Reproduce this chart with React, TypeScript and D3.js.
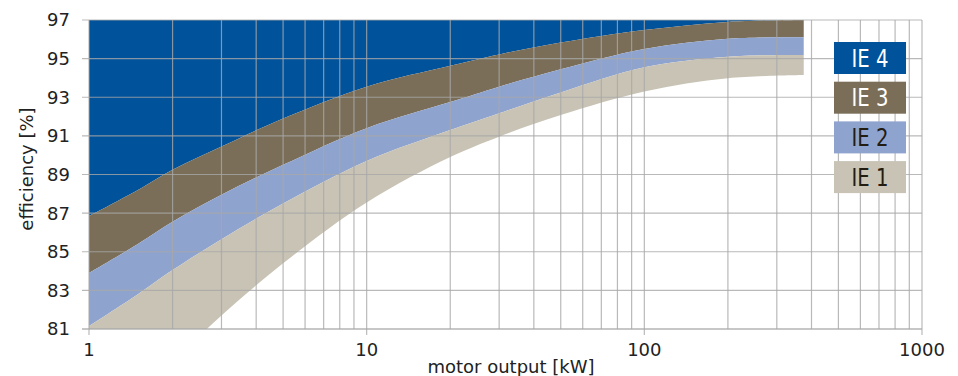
import { useEffect, useRef } from 'react'
import * as d3 from 'd3'

// motor output [kW] sample points
const power = [1, 1.5, 2, 3, 5, 10, 20, 30, 50, 100, 200, 375]

// efficiency limits [%] per class at the points above
const ie4 = [86.85, 88.2, 89.25, 90.45, 91.9, 93.55, 94.63, 95.22, 95.83, 96.48, 96.9, 97.0]
const ie3 = [83.9, 85.4, 86.55, 87.95, 89.5, 91.4, 92.75, 93.55, 94.45, 95.5, 96.03, 96.1]
const ie2 = [81.15, 82.8, 84.05, 85.65, 87.5, 89.7, 91.3, 92.17, 93.25, 94.55, 95.1, 95.19]
const ie1 = [75.0, 77.55, 79.3, 81.7, 84.4, 87.55, 89.9, 90.96, 92.08, 93.3, 93.98, 94.15]

const classNames = ['IE 4', 'IE 3', 'IE 2', 'IE 1']
const yTicks = [81, 83, 85, 87, 89, 91, 93, 95, 97]
const xTicks = [1, 10, 100, 1000]

const COLORS = ['#00529b', '#7a6e58', '#8fa3cf', '#c8c3b5']
const TEXT_COLORS = ['#ffffff', '#ffffff', '#231c10', '#231c10']

export default function App() {
  const svgRef = useRef<SVGSVGElement>(null)

  useEffect(() => {
    if (!svgRef.current) return
    const svg = d3.select(svgRef.current)
    svg.selectAll('*').remove()

    const width = 958
    const height = 376
    const left = 89
    const right = 922
    const top = 20
    const bottom = 329
    const font = '"DejaVu Sans", sans-serif'

    svg.attr('width', width).attr('height', height)

    const x = d3.scaleLog().domain([1, 1000]).range([left, right])
    const y = d3.scaleLinear().domain([81, 97]).range([bottom, top])

    svg.append('defs')
      .append('clipPath')
      .attr('id', 'plot-clip')
      .append('rect')
      .attr('x', left)
      .attr('y', top)
      .attr('width', right - left)
      .attr('height', bottom - top)

    // bands: each class fills from its own limit up to the next class
    const upper = [power.map(() => 97), ie4, ie3, ie2]
    const lower = [ie4, ie3, ie2, ie1]

    const bands = svg.append('g').attr('clip-path', 'url(#plot-clip)')
    for (let k = 0; k < 4; k++) {
      const area = d3.area<number>()
        .x(i => x(power[i]))
        .y0(i => y(lower[k][i]))
        .y1(i => y(upper[k][i]))
        .curve(d3.curveCatmullRom.alpha(0.5))
      bands.append('path')
        .attr('d', area(power.map((_, i) => i)) as string)
        .attr('fill', COLORS[k])
    }

    // grid on top of the bands
    const minor: number[] = []
    for (let d = 1; d < 1000; d *= 10) {
      for (let m = 1; m < 10; m++) minor.push(d * m)
    }
    minor.push(1000)

    const grid = svg.append('g')
      .attr('stroke', '#a8a8a8')
      .attr('stroke-opacity', 0.8)
      .attr('stroke-width', 1.2)

    grid.selectAll('line.v')
      .data(minor)
      .enter()
      .append('line')
      .attr('x1', d => x(d))
      .attr('x2', d => x(d))
      .attr('y1', top)
      .attr('y2', bottom)

    grid.selectAll('line.h')
      .data(yTicks)
      .enter()
      .append('line')
      .attr('x1', left - 7)
      .attr('x2', right)
      .attr('y1', d => y(d))
      .attr('y2', d => y(d))

    grid.selectAll('line.t')
      .data(xTicks)
      .enter()
      .append('line')
      .attr('x1', d => x(d))
      .attr('x2', d => x(d))
      .attr('y1', bottom)
      .attr('y2', bottom + 6)

    grid.append('line')
      .attr('x1', left - 7)
      .attr('x2', right)
      .attr('y1', bottom)
      .attr('y2', bottom)

    // tick labels
    svg.append('g')
      .selectAll('text')
      .data(yTicks)
      .enter()
      .append('text')
      .attr('x', 70)
      .attr('y', d => y(d))
      .attr('dy', '0.36em')
      .attr('text-anchor', 'end')
      .style('font-family', font)
      .style('font-size', '18px')
      .style('fill', '#222')
      .text(d => d)

    svg.append('g')
      .selectAll('text')
      .data(xTicks)
      .enter()
      .append('text')
      .attr('x', d => x(d))
      .attr('y', 356)
      .attr('text-anchor', 'middle')
      .style('font-family', font)
      .style('font-size', '18px')
      .style('fill', '#222')
      .text(d => d)

    svg.append('text')
      .attr('transform', 'translate(33,169) rotate(-90)')
      .attr('text-anchor', 'middle')
      .style('font-family', font)
      .style('font-size', '18px')
      .style('fill', '#222')
      .text('efficiency [%]')

    svg.append('text')
      .attr('x', 511)
      .attr('y', 373)
      .attr('text-anchor', 'middle')
      .style('font-family', font)
      .style('font-size', '18px')
      .style('fill', '#222')
      .text('motor output [kW]')

    // legend
    const legend = svg.append('g').attr('transform', 'translate(834,42)')
    classNames.forEach((name, k) => {
      const row = legend.append('g').attr('transform', `translate(0,${k * 39.7})`)
      row.append('rect')
        .attr('width', 72)
        .attr('height', 32)
        .attr('fill', COLORS[k])
      row.append('text')
        .attr('x', 36)
        .attr('y', 16)
        .attr('dy', '0.36em')
        .attr('text-anchor', 'middle')
        .attr('textLength', 37)
        .attr('lengthAdjust', 'spacingAndGlyphs')
        .style('font-family', font)
        .style('font-size', '24px')
        .style('fill', TEXT_COLORS[k])
        .text(name)
    })
  }, [])

  return (
    <svg
      ref={svgRef}
      style={{ position: 'absolute', left: 0, top: 0, display: 'block' }}
    />
  )
}
